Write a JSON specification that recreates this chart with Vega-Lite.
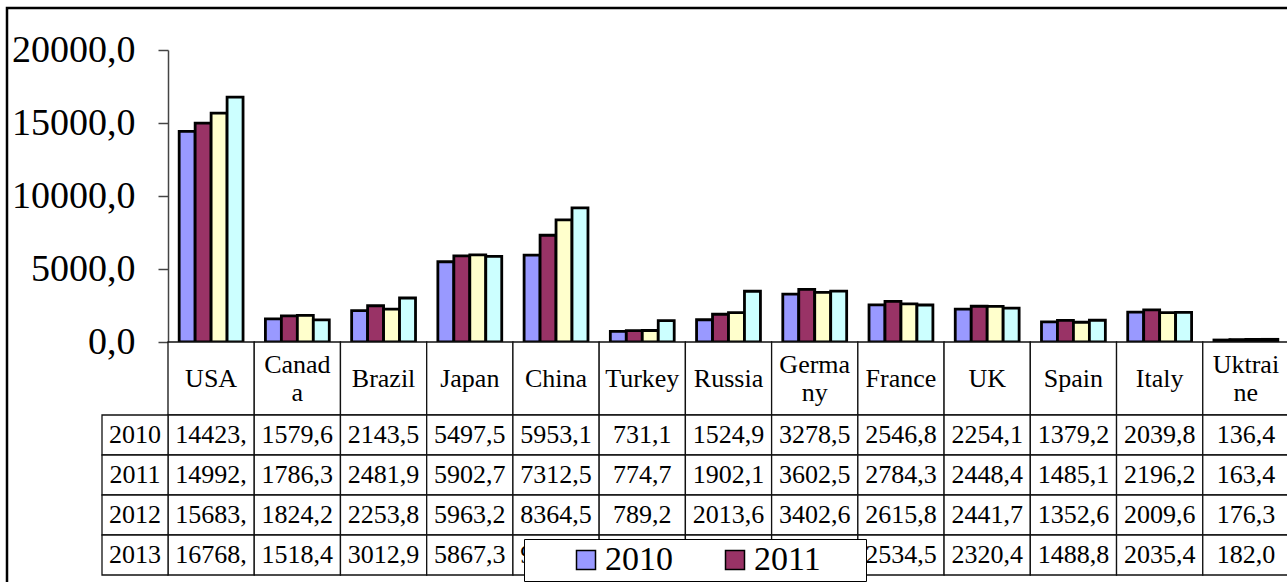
{
  "$schema": "https://vega.github.io/schema/vega-lite/v6.json",
  "autosize": {"type": "none"},
  "padding": {"left": 7, "top": 8, "right": 0, "bottom": 0},
  "width": 1283,
  "height": 577,
  "config": {
    "font": "Liberation Serif",
    "view": {"stroke": "#000", "strokeWidth": 2.5},
    "background": "white"
  },
  "datasets": {
    "gdp": [
      {"country": "USA", "year": "2010", "value": 14423.5, "label": "14423,"},
      {"country": "USA", "year": "2011", "value": 14992.0, "label": "14992,"},
      {"country": "USA", "year": "2012", "value": 15683.0, "label": "15683,"},
      {"country": "USA", "year": "2013", "value": 16768.0, "label": "16768,"},
      {"country": "Canada", "year": "2010", "value": 1579.6, "label": "1579,6"},
      {"country": "Canada", "year": "2011", "value": 1786.3, "label": "1786,3"},
      {"country": "Canada", "year": "2012", "value": 1824.2, "label": "1824,2"},
      {"country": "Canada", "year": "2013", "value": 1518.4, "label": "1518,4"},
      {"country": "Brazil", "year": "2010", "value": 2143.5, "label": "2143,5"},
      {"country": "Brazil", "year": "2011", "value": 2481.9, "label": "2481,9"},
      {"country": "Brazil", "year": "2012", "value": 2253.8, "label": "2253,8"},
      {"country": "Brazil", "year": "2013", "value": 3012.9, "label": "3012,9"},
      {"country": "Japan", "year": "2010", "value": 5497.5, "label": "5497,5"},
      {"country": "Japan", "year": "2011", "value": 5902.7, "label": "5902,7"},
      {"country": "Japan", "year": "2012", "value": 5963.2, "label": "5963,2"},
      {"country": "Japan", "year": "2013", "value": 5867.3, "label": "5867,3"},
      {"country": "China", "year": "2010", "value": 5953.1, "label": "5953,1"},
      {"country": "China", "year": "2011", "value": 7312.5, "label": "7312,5"},
      {"country": "China", "year": "2012", "value": 8364.5, "label": "8364,5"},
      {"country": "China", "year": "2013", "value": 9186.0, "label": "9186,0"},
      {"country": "Turkey", "year": "2010", "value": 731.1, "label": "731,1"},
      {"country": "Turkey", "year": "2011", "value": 774.7, "label": "774,7"},
      {"country": "Turkey", "year": "2012", "value": 789.2, "label": "789,2"},
      {"country": "Turkey", "year": "2013", "value": 1470.0, "label": "1470,0"},
      {"country": "Russia", "year": "2010", "value": 1524.9, "label": "1524,9"},
      {"country": "Russia", "year": "2011", "value": 1902.1, "label": "1902,1"},
      {"country": "Russia", "year": "2012", "value": 2013.6, "label": "2013,6"},
      {"country": "Russia", "year": "2013", "value": 3475.0, "label": "3475,0"},
      {"country": "Germany", "year": "2010", "value": 3278.5, "label": "3278,5"},
      {"country": "Germany", "year": "2011", "value": 3602.5, "label": "3602,5"},
      {"country": "Germany", "year": "2012", "value": 3402.6, "label": "3402,6"},
      {"country": "Germany", "year": "2013", "value": 3490.0, "label": "3490,0"},
      {"country": "France", "year": "2010", "value": 2546.8, "label": "2546,8"},
      {"country": "France", "year": "2011", "value": 2784.3, "label": "2784,3"},
      {"country": "France", "year": "2012", "value": 2615.8, "label": "2615,8"},
      {"country": "France", "year": "2013", "value": 2534.5, "label": "2534,5"},
      {"country": "UK", "year": "2010", "value": 2254.1, "label": "2254,1"},
      {"country": "UK", "year": "2011", "value": 2448.4, "label": "2448,4"},
      {"country": "UK", "year": "2012", "value": 2441.7, "label": "2441,7"},
      {"country": "UK", "year": "2013", "value": 2320.4, "label": "2320,4"},
      {"country": "Spain", "year": "2010", "value": 1379.2, "label": "1379,2"},
      {"country": "Spain", "year": "2011", "value": 1485.1, "label": "1485,1"},
      {"country": "Spain", "year": "2012", "value": 1352.6, "label": "1352,6"},
      {"country": "Spain", "year": "2013", "value": 1488.8, "label": "1488,8"},
      {"country": "Italy", "year": "2010", "value": 2039.8, "label": "2039,8"},
      {"country": "Italy", "year": "2011", "value": 2196.2, "label": "2196,2"},
      {"country": "Italy", "year": "2012", "value": 2009.6, "label": "2009,6"},
      {"country": "Italy", "year": "2013", "value": 2035.4, "label": "2035,4"},
      {"country": "Ukraine", "year": "2010", "value": 136.4, "label": "136,4"},
      {"country": "Ukraine", "year": "2011", "value": 163.4, "label": "163,4"},
      {"country": "Ukraine", "year": "2012", "value": 176.3, "label": "176,3"},
      {"country": "Ukraine", "year": "2013", "value": 182.0, "label": "182,0"}
    ],
    "countries": [
      {"country": "USA", "name": "USA"},
      {"country": "Canada", "name": "Canad\na"},
      {"country": "Brazil", "name": "Brazil"},
      {"country": "Japan", "name": "Japan"},
      {"country": "China", "name": "China"},
      {"country": "Turkey", "name": "Turkey"},
      {"country": "Russia", "name": "Russia"},
      {"country": "Germany", "name": "Germa\nny"},
      {"country": "France", "name": "France"},
      {"country": "UK", "name": "UK"},
      {"country": "Spain", "name": "Spain"},
      {"country": "Italy", "name": "Italy"},
      {"country": "Ukraine", "name": "Uktrai\nne"}
    ],
    "years": [
      {"year": "2010"},
      {"year": "2011"},
      {"year": "2012"},
      {"year": "2013"}
    ]
  },
  "layer": [
    {
      "data": {"name": "gdp"},
      "mark": {"type": "bar", "stroke": "#000", "strokeWidth": 2.8},
      "encoding": {
        "x": {
          "field": "country", "type": "nominal",
          "scale": {"domain": ["USA", "Canada", "Brazil", "Japan", "China", "Turkey", "Russia", "Germany", "France", "UK", "Spain", "Italy", "Ukraine"], "range": [161, 1282], "paddingInner": 0, "paddingOuter": 0},
          "axis": null
        },
        "xOffset": {
          "field": "year", "type": "nominal",
          "scale": {"paddingInner": 0, "paddingOuter": 0.7}
        },
        "y": {
          "field": "value", "type": "quantitative",
          "scale": {"domain": [0, 20000], "range": [334, 42], "nice": false},
          "axis": {
            "title": null,
            "grid": false,
            "offset": -161,
            "values": [0, 5000, 10000, 15000, 20000],
            "labelExpr": "replace(format(datum.value, '.1f'), '.', ',')",
            "labelFont": "Liberation Serif",
            "labelFontSize": 38,
            "labelColor": "#000",
            "labelPadding": 23,
            "tickSize": 10,
            "tickColor": "#444",
            "tickWidth": 1.5,
            "domainColor": "#444",
            "domainWidth": 1.5
          }
        },
        "color": {
          "field": "year", "type": "nominal",
          "scale": {"domain": ["2010", "2011", "2012", "2013"], "range": ["#9999FF", "#993366", "#FFFFCC", "#CCFFFF"]},
          "legend": {
            "orient": "none",
            "legendX": 517,
            "legendY": 531,
            "direction": "horizontal",
            "values": ["2010", "2011"],
            "fillColor": "white",
            "strokeColor": "#000",
            "padding": 4,
            "title": ".",
            "titleColor": "white",
            "titleOrient": "right",
            "titleFontSize": 10,
            "titlePadding": 38,
            "symbolType": "square",
            "symbolSize": 361,
            "symbolOffset": 41,
            "symbolStrokeColor": "#000",
            "symbolStrokeWidth": 1.5,
            "symbolOpacity": 1,
            "labelFont": "Liberation Serif",
            "labelFontSize": 34,
            "labelColor": "#000",
            "labelOffset": 2,
            "columnPadding": 4
          }
        }
      }
    },
    {
      "data": {"name": "countries"},
      "encoding": {
        "x": {
          "field": "country", "type": "nominal",
          "scale": {"domain": ["USA", "Canada", "Brazil", "Japan", "China", "Turkey", "Russia", "Germany", "France", "UK", "Spain", "Italy", "Ukraine"], "range": [161, 1282], "paddingInner": 0, "paddingOuter": 0},
          "axis": null
        },
        "y": {
          "datum": "header", "type": "nominal",
          "scale": {"domain": ["header"], "range": [334, 407], "paddingInner": 0, "paddingOuter": 0},
          "axis": null
        }
      },
      "layer": [
        {"mark": {"type": "rect", "fill": "white", "stroke": "#111", "strokeWidth": 1.3}},
        {
          "transform": [{"filter": "indexof(datum.name, '\\n') < 0"}],
          "mark": {"type": "text", "fontSize": 26, "font": "Liberation Serif", "color": "#000", "align": "center", "baseline": "middle"},
          "encoding": {"text": {"field": "name"}}
        },
        {
          "transform": [{"filter": "indexof(datum.name, '\\n') >= 0"}],
          "mark": {"type": "text", "fontSize": 26, "font": "Liberation Serif", "color": "#000", "align": "center", "baseline": "middle", "lineBreak": "\n", "lineHeight": 28, "dy": -14},
          "encoding": {"text": {"field": "name"}}
        }
      ]
    },
    {
      "data": {"name": "gdp"},
      "encoding": {
        "x": {
          "field": "country", "type": "nominal",
          "scale": {"domain": ["USA", "Canada", "Brazil", "Japan", "China", "Turkey", "Russia", "Germany", "France", "UK", "Spain", "Italy", "Ukraine"], "range": [161, 1282], "paddingInner": 0, "paddingOuter": 0},
          "axis": null
        },
        "y": {
          "field": "year", "type": "nominal",
          "scale": {"domain": ["2010", "2011", "2012", "2013"], "range": [407, 567], "paddingInner": 0, "paddingOuter": 0},
          "axis": null
        }
      },
      "layer": [
        {"mark": {"type": "rect", "fill": "white", "stroke": "#111", "strokeWidth": 1.3}},
        {
          "mark": {"type": "text", "fontSize": 26, "font": "Liberation Serif", "color": "#000", "align": "center", "baseline": "middle"},
          "encoding": {"text": {"field": "label"}}
        }
      ]
    },
    {
      "data": {"name": "years"},
      "encoding": {
        "x": {
          "datum": "year", "type": "nominal",
          "scale": {"domain": ["year"], "range": [95, 161], "paddingInner": 0, "paddingOuter": 0},
          "axis": null
        },
        "y": {
          "field": "year", "type": "nominal",
          "scale": {"domain": ["2010", "2011", "2012", "2013"], "range": [407, 567], "paddingInner": 0, "paddingOuter": 0},
          "axis": null
        }
      },
      "layer": [
        {"mark": {"type": "rect", "fill": "white", "stroke": "#111", "strokeWidth": 1.3}},
        {
          "mark": {"type": "text", "fontSize": 26, "font": "Liberation Serif", "color": "#000", "align": "center", "baseline": "middle"},
          "encoding": {"text": {"field": "year"}}
        }
      ]
    }
  ],
  "resolve": {"scale": {"x": "independent", "y": "independent", "color": "independent"}}
}
